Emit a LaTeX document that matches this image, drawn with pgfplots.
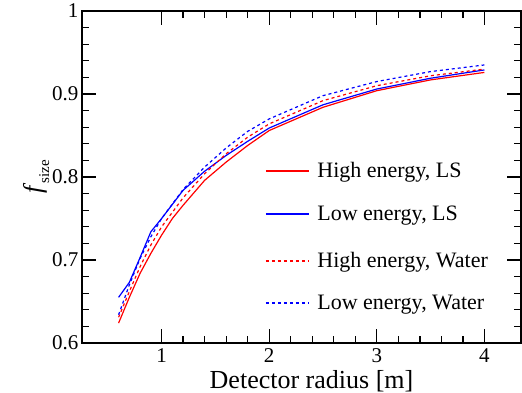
\documentclass[border=0pt]{standalone}
\usepackage{fontspec}
\setmainfont{Liberation Serif}
\usepackage{pgfplots}
\pgfplotsset{compat=1.18}
\pgfplotsset{
  base/.style={
    at={(0pt,0pt)}, anchor=south west,
    scale only axis, width=439pt, height=332pt,
    xmin=0.26, xmax=4.34, ymin=0.6, ymax=1,
    legend cell align=left,
    legend image code/.code={\draw[##1] (0pt,0pt) -- (43pt,0pt);},
  },
  leg/.style={legend style={draw=none, fill=none, at={(rel axis cs:0,0)}, anchor=west,
    xshift=180pt, yshift=#1,
    nodes={font=\fontsize{22}{22}\selectfont, inner xsep=8pt}}},
}
\begin{document}
\begin{tikzpicture}
\useasboundingbox (-82pt,-50pt) rectangle (440pt,343pt);
\begin{axis}[base, leg=172pt,
  xtick={1,2,3,4}, ytick={0.6,0.7,0.8,0.9,1},
  yticklabels={0.6,0.7,0.8,0.9,1},
  minor x tick num=4, minor y tick num=4,
  tick align=inside,
  major tick length=14pt, minor tick length=7pt,
  axis line style={line width=1.5pt},
  every tick/.style={line width=1.3pt, black},
  /pgf/number format/assume math mode=true,
  ticklabel style={font=\fontsize{21}{21}\selectfont},
  xticklabel style={yshift=-2pt},
  xlabel={Detector radius [m]},
  xlabel style={font=\fontsize{26}{26}\selectfont, yshift=-1pt, xshift=10pt},
  ylabel={\textit{f}\raisebox{-0.3em}{\fontsize{15}{15}\selectfont size}},
  ylabel style={font=\fontsize{26}{26}\selectfont, yshift=-4pt},
]
\addplot[red, line width=1.2pt] coordinates {
(0.6,0.624) (0.7,0.655) (0.8,0.684) (0.9,0.708) (1.0,0.730) (1.1,0.750) (1.2,0.766)
(1.4,0.796) (1.6,0.818) (1.8,0.838) (2.0,0.856) (2.5,0.884) (3.0,0.904) (3.5,0.917) (4.0,0.926)};
\addlegendentry{High energy, LS}
\end{axis}
\begin{axis}[base, hide axis, leg=129pt]
\addplot[blue, line width=1.2pt] coordinates {
(0.6,0.655) (0.7,0.673) (0.8,0.703) (0.9,0.734) (1.0,0.750) (1.1,0.767) (1.2,0.784)
(1.4,0.807) (1.6,0.826) (1.8,0.843) (2.0,0.859) (2.5,0.887) (3.0,0.906) (3.5,0.919) (4.0,0.929)};
\addlegendentry{Low energy, LS}
\end{axis}
\begin{axis}[base, hide axis, leg=82pt]
\addplot[red, line width=1.2pt, dash pattern=on 3pt off 3pt] coordinates {
(0.6,0.631) (0.7,0.662) (0.8,0.692) (0.9,0.718) (1.0,0.740) (1.2,0.775)
(1.4,0.804) (1.6,0.828) (1.8,0.848) (2.0,0.864) (2.5,0.892) (3.0,0.910) (3.5,0.922) (4.0,0.930)};
\addlegendentry{High energy, Water}
\end{axis}
\begin{axis}[base, hide axis, leg=40pt]
\addplot[blue, line width=1.2pt, dash pattern=on 3pt off 3pt] coordinates {
(0.6,0.634) (0.7,0.670) (0.8,0.702) (0.9,0.728) (1.0,0.750) (1.2,0.785)
(1.4,0.812) (1.6,0.835) (1.8,0.855) (2.0,0.870) (2.5,0.898) (3.0,0.915) (3.5,0.927) (4.0,0.935)};
\addlegendentry{Low energy, Water}
\end{axis}
\end{tikzpicture}
\end{document}
